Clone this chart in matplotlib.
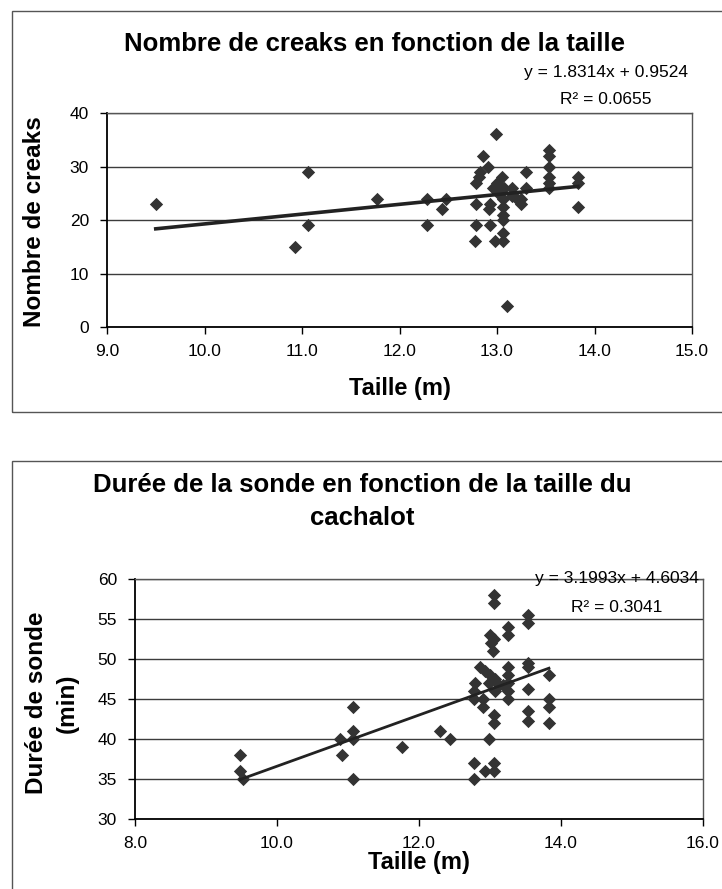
import matplotlib
matplotlib.use("Agg")
import matplotlib.pyplot as plt
from matplotlib.patches import Rectangle
import numpy as np

plt.rcParams['font.family'] = ['Liberation Sans', 'DejaVu Sans']

# --- data: creaks vs size ---
creak_size = [9.50, 10.93, 11.06, 11.06, 11.77, 12.28, 12.28, 12.44, 12.48,
              12.77, 12.78, 12.78, 12.78, 12.82, 12.83, 12.86, 12.91, 12.92,
              12.93, 12.93, 12.98, 12.99, 12.96, 13.00, 13.05, 13.07, 13.01,
              13.06, 13.06, 13.06, 13.06, 13.06, 13.06, 13.10, 13.15, 13.15,
              13.20, 13.25, 13.25, 13.30, 13.30, 13.53, 13.53, 13.53, 13.53,
              13.53, 13.53, 13.83, 13.83, 13.83]
creak_count = [23, 15, 29, 19, 24, 24, 19, 22, 24,
               16, 19, 23, 27, 28, 29, 32, 30, 22,
               23, 19, 16, 36, 26, 27, 28, 26, 25,
               24, 22.5, 21, 20, 17.5, 16, 4, 26, 24.5,
               24, 24, 23, 29, 26, 33, 32, 30, 28,
               27, 26, 28, 27, 22.5]
creak_fit = (1.8314, 0.9524)
creak_eq = ["y = 1.8314x + 0.9524", "R² = 0.0655"]

# --- data: dive duration vs size ---
dive_size = [9.48, 9.48, 9.52, 10.89, 10.91, 11.07, 11.07, 11.07, 11.07,
             11.76, 12.29, 12.43, 12.77, 12.77, 12.77, 12.77, 12.79, 12.86,
             12.90, 12.90, 12.93, 12.93, 12.98, 12.99, 13.00, 13.00, 13.02,
             13.04, 13.05, 13.05, 13.05, 13.05, 13.05, 13.05, 13.05, 13.07,
             13.07, 13.12, 13.19, 13.26, 13.26, 13.26, 13.26, 13.26, 13.26,
             13.26, 13.53, 13.53, 13.53, 13.53, 13.53, 13.53, 13.53, 13.83,
             13.83, 13.83, 13.83]
dive_min = [38, 36, 35, 40, 38, 44, 41, 40, 35,
            39, 41, 40, 37, 35, 45, 46, 47, 49,
            45, 44, 48.5, 36, 47, 40, 53, 48, 52,
            51, 58, 57, 52.5, 43, 42, 37, 36, 47.5,
            46, 46.75, 46.75, 54, 53, 49, 48, 47, 46,
            45, 55.5, 54.5, 49.5, 49, 46.3, 43.5, 42.2, 48,
            45, 44, 42]
dive_fit = (3.1993, 4.6034)
dive_eq = ["y = 3.1993x + 4.6034", "R² = 0.3041"]

W, H = 722, 889


def fx(px):
    return px / W


def fy(py):
    return 1 - py / H


def make_axes(fig, left, top, right, bottom):
    return fig.add_axes([fx(left), fy(bottom), fx(right) - fx(left), (bottom - top) / H])


def style_axes(ax, xlim, ylim, xticks, yticks):
    ax.set_xlim(*xlim)
    ax.set_ylim(*ylim)
    ax.set_xticks(xticks)
    ax.set_yticks(yticks)
    ax.set_xticklabels(['%.1f' % t for t in xticks])
    ax.set_yticklabels(['%d' % t for t in yticks])
    ax.tick_params(direction='out', length=5, width=1, labelsize=12.5, color='black')
    ax.tick_params(axis='x', pad=7)
    ax.tick_params(axis='y', pad=8)
    ax.yaxis.grid(True, color='#3c3c3c', lw=1)
    ax.set_axisbelow(True)
    for s in ['left', 'bottom']:
        ax.spines[s].set_color('black')
        ax.spines[s].set_linewidth(1.3)
    for s in ['top', 'right']:
        ax.spines[s].set_color('#555555')
        ax.spines[s].set_linewidth(1)


fig = plt.figure(figsize=(W / 100, H / 100), dpi=100)

# chart area frames
fig.patches.append(Rectangle((fx(12), fy(412)), 1.2, (412 - 11) / H, transform=fig.transFigure,
                             fill=False, edgecolor='#555555', lw=1))
fig.patches.append(Rectangle((fx(12), fy(900)), 1.2, (900 - 461) / H, transform=fig.transFigure,
                             fill=False, edgecolor='#555555', lw=1))

mk = dict(marker='D', s=46, color='#333333', zorder=3, linewidths=0)

# --- top chart ---
ax1 = make_axes(fig, 107, 113, 692, 327)
ax1.scatter(creak_size, creak_count, **mk)
xs = np.array([min(creak_size), max(creak_size)])
ax1.plot(xs, creak_fit[0] * xs + creak_fit[1], color='#222222', lw=2.6, zorder=4)
style_axes(ax1, (9, 15), (0, 40), np.arange(9, 15.01, 1.0), [0, 10, 20, 30, 40])
fig.text(fx(374), fy(44), "Nombre de creaks en fonction de la taille", ha='center', va='center',
         fontsize=18.5, fontweight='bold')
fig.text(fx(606), fy(73), creak_eq[0], ha='center', va='center', fontsize=12.5)
fig.text(fx(606), fy(100), creak_eq[1], ha='center', va='center', fontsize=12.5)
fig.text(fx(35), fy(222), "Nombre de creaks", rotation=90, ha='center', va='center',
         fontsize=17.5, fontweight='bold')
fig.text(fx(400), fy(388), "Taille (m)", ha='center', va='center', fontsize=17, fontweight='bold')

# --- bottom chart ---
ax2 = make_axes(fig, 135, 579, 703, 819)
ax2.scatter(dive_size, dive_min, **mk)
xs = np.array([min(dive_size), max(dive_size)])
ax2.plot(xs, dive_fit[0] * xs + dive_fit[1], color='#222222', lw=2.0, zorder=4)
style_axes(ax2, (8, 16), (30, 60), np.arange(8, 16.01, 2.0), [30, 35, 40, 45, 50, 55, 60])
fig.text(fx(362), fy(485), "Durée de la sonde en fonction de la taille du", ha='center', va='center',
         fontsize=18.5, fontweight='bold')
fig.text(fx(362), fy(518), "cachalot", ha='center', va='center', fontsize=18.5, fontweight='bold')
fig.text(fx(617), fy(579), dive_eq[0], ha='center', va='center', fontsize=12.5, zorder=5)
fig.text(fx(617), fy(607), dive_eq[1], ha='center', va='center', fontsize=12.5, zorder=5)
fig.text(fx(52), fy(703), "Durée de sonde\n(min)", rotation=90, ha='center', va='center',
         fontsize=17.5, fontweight='bold', linespacing=1.4)
fig.text(fx(419), fy(863), "Taille (m)", ha='center', va='center', fontsize=17, fontweight='bold')

fig.savefig('out.png', dpi=100, facecolor='white')
